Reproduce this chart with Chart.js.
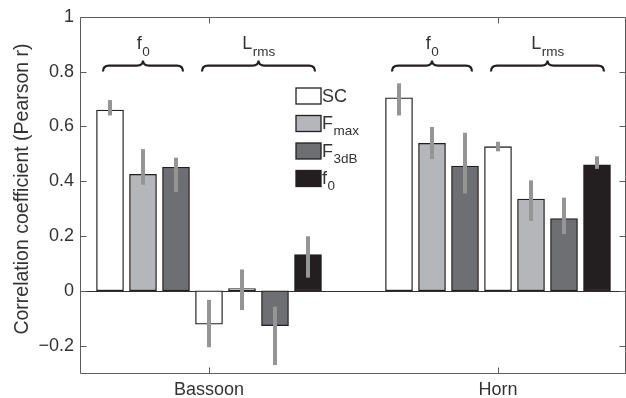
<!DOCTYPE html>
<html>
<head>
<meta charset="utf-8">
<script src="https://cdn.jsdelivr.net/npm/chart.js@4.4.0/dist/chart.umd.min.js"></script>
<style>
  body { margin: 0; background: #fff; }
  canvas { display: block; }
</style>
</head>
<body>
<canvas id="corrChart" width="626" height="398"></canvas>
<script>
var instruments = ['Bassoon', 'Horn'];
var features = ['SC', 'Fmax', 'F3dB', 'f0'];
var yTicks = [-0.2, 0, 0.2, 0.4, 0.6, 0.8, 1];

// Pearson r when predicting f0 (SC, Fmax, F3dB) and Lrms (SC, Fmax, F3dB, f0)
var bassoonF0 = [0.66, 0.425, 0.451];
var bassoonF0Lo = [0.64, 0.387, 0.361];
var bassoonF0Hi = [0.696, 0.517, 0.486];
var bassoonLrms = [-0.122, 0.008, -0.127, 0.132];
var bassoonLrmsLo = [-0.206, -0.07, -0.271, 0.048];
var bassoonLrmsHi = [-0.033, 0.078, -0.058, 0.199];
var hornF0 = [0.704, 0.538, 0.455];
var hornF0Lo = [0.64, 0.481, 0.355];
var hornF0Hi = [0.757, 0.598, 0.577];
var hornLrms = [0.526, 0.335, 0.264, 0.46];
var hornLrmsLo = [0.509, 0.255, 0.207, 0.445];
var hornLrmsHi = [0.544, 0.403, 0.34, 0.491];

var FONT = '"Liberation Sans", Arial, Helvetica, sans-serif';
var TEXT = '#333333';
var AXIS = '#5c5c5c';
var EDGE = '#231f20';
var fills = ['#ffffff', '#b5b6b9', '#6e6f72', '#231f20'];
var legendText = [['SC', ''], ['F', 'max'], ['F', '3dB'], ['f', '0']];

// seven bar slots per instrument, centred on the instrument tick
var SLOT = 33 / 289;

var groups = [
    { inst: 0, first: 0, name: ['f', '0'], v: bassoonF0, lo: bassoonF0Lo, hi: bassoonF0Hi },
    { inst: 0, first: 3, name: ['L', 'rms'], v: bassoonLrms, lo: bassoonLrmsLo, hi: bassoonLrmsHi },
    { inst: 1, first: 0, name: ['f', '0'], v: hornF0, lo: hornF0Lo, hi: hornF0Hi },
    { inst: 1, first: 3, name: ['L', 'rms'], v: hornLrms, lo: hornLrmsLo, hi: hornLrmsHi }
];

function slotX(inst, slot) {
    return inst + 1 + (slot - 3) * SLOT;
}

var datasets = features.map(function (f, j) {
    var pts = [];
    groups.forEach(function (g) {
        if (j < g.v.length) {
            pts.push({ x: slotX(g.inst, g.first + j), y: g.v[j], lo: g.lo[j], hi: g.hi[j] });
        }
    });
    return {
        label: f,
        data: pts,
        backgroundColor: fills[j],
        borderColor: EDGE,
        borderWidth: 1.3,
        borderSkipped: false,
        barThickness: 27,
        grouped: false
    };
});

function subText(ctx, x, y, main, sub, size, subSize, drop, align) {
    ctx.font = size + 'px ' + FONT;
    var w1 = ctx.measureText(main).width;
    ctx.font = subSize + 'px ' + FONT;
    var w2 = ctx.measureText(sub).width;
    var x0 = align === 'center' ? x - (w1 + w2) / 2 : x;
    ctx.textAlign = 'left';
    ctx.textBaseline = 'alphabetic';
    ctx.font = size + 'px ' + FONT;
    ctx.fillText(main, x0, y);
    ctx.font = subSize + 'px ' + FONT;
    ctx.fillText(sub, x0 + w1 + 0.5, y + drop);
}

function brace(ctx, x0, x1, yEnd) {
    var yMid = yEnd - 6, yTip = yEnd - 11, xc = (x0 + x1) / 2, r = 6;
    ctx.beginPath();
    ctx.moveTo(x0, yEnd);
    ctx.quadraticCurveTo(x0, yMid, x0 + r, yMid);
    ctx.lineTo(xc - r, yMid);
    ctx.quadraticCurveTo(xc, yMid, xc, yTip);
    ctx.quadraticCurveTo(xc, yMid, xc + r, yMid);
    ctx.lineTo(x1 - r, yMid);
    ctx.quadraticCurveTo(x1, yMid, x1, yEnd);
    ctx.stroke();
}

var decor = {
    id: 'decor',
    beforeDatasetsDraw: function (chart) {
        var ctx = chart.ctx, a = chart.chartArea, ys = chart.scales.y;
        var y0 = Math.round(ys.getPixelForValue(0)) + 0.5;
        ctx.save();
        ctx.strokeStyle = '#333';
        ctx.lineWidth = 1;
        ctx.beginPath();
        ctx.moveTo(a.left, y0);
        ctx.lineTo(a.right, y0);
        ctx.stroke();
        ctx.restore();
    },
    afterDatasetsDraw: function (chart) {
        var ctx = chart.ctx, a = chart.chartArea, xs = chart.scales.x, ys = chart.scales.y;
        ctx.save();

        // error bars
        ctx.strokeStyle = '#959595';
        ctx.lineWidth = 4;
        chart.data.datasets.forEach(function (ds, i) {
            var meta = chart.getDatasetMeta(i);
            meta.data.forEach(function (bar, k) {
                var p = ds.data[k];
                ctx.beginPath();
                ctx.moveTo(bar.x, ys.getPixelForValue(p.lo));
                ctx.lineTo(bar.x, ys.getPixelForValue(p.hi));
                ctx.stroke();
            });
        });

        // axes box and inward ticks
        ctx.strokeStyle = AXIS;
        ctx.lineWidth = 1;
        var L = Math.round(a.left) + 0.5, R = Math.round(a.right) - 0.5;
        var T = Math.round(a.top) + 0.5, B = Math.round(a.bottom) + 0.5;
        ctx.beginPath();
        ctx.moveTo(L, T); ctx.lineTo(R, T); ctx.lineTo(R, B); ctx.lineTo(L, B); ctx.closePath();
        yTicks.forEach(function (v) {
            var y = Math.round(ys.getPixelForValue(v)) + 0.5;
            ctx.moveTo(L, y); ctx.lineTo(L + 6, y);
            ctx.moveTo(R, y); ctx.lineTo(R - 6, y);
        });
        instruments.forEach(function (n, i) {
            var x = Math.round(xs.getPixelForValue(i + 1)) + 0.5;
            ctx.moveTo(x, T); ctx.lineTo(x, T + 6);
            ctx.moveTo(x, B); ctx.lineTo(x, B - 6);
        });
        ctx.stroke();

        // braces naming the predicted quantity
        ctx.strokeStyle = EDGE;
        ctx.lineWidth = 2.2;
        ctx.fillStyle = TEXT;
        var yEnd = ys.getPixelForValue(0.8);
        groups.forEach(function (g) {
            var xa = xs.getPixelForValue(slotX(g.inst, g.first)) - 7;
            var xb = xs.getPixelForValue(slotX(g.inst, g.first + g.v.length - 1)) + 7;
            brace(ctx, xa, xb, yEnd);
            subText(ctx, (xa + xb) / 2, yEnd - 23, g.name[0], g.name[1], 18, 13.5, 7.5, 'center');
        });

        // legend
        var lx = a.left + 216, ly = 88;
        features.forEach(function (f, j) {
            var by = ly + j * 27.5;
            ctx.fillStyle = fills[j];
            ctx.fillRect(lx, by, 25, 16);
            ctx.strokeStyle = EDGE;
            ctx.lineWidth = 1.3;
            ctx.strokeRect(lx, by, 25, 16);
            ctx.fillStyle = TEXT;
            subText(ctx, lx + 26, by + 13.5, legendText[j][0], legendText[j][1], 18, 13.5, 6, 'left');
        });

        // y axis title
        ctx.translate(23, 189);
        ctx.rotate(-Math.PI / 2);
        ctx.font = '19.5px ' + FONT;
        ctx.textAlign = 'center';
        ctx.textBaseline = 'middle';
        ctx.fillStyle = TEXT;
        ctx.fillText('Correlation coefficient (Pearson r)', 0, 0);
        ctx.restore();
    }
};

new Chart(document.getElementById('corrChart'), {
    type: 'bar',
    data: { datasets: datasets },
    options: {
        responsive: false,
        animation: false,
        layout: { padding: { top: 14, right: 0, left: 0, bottom: 0 } },
        plugins: { legend: { display: false }, tooltip: { enabled: false } },
        scales: {
            x: {
                type: 'linear',
                offset: false,
                min: 1 - 129 / 289,
                max: 2 + 128 / 289,
                grid: { display: false, drawTicks: false },
                border: { display: false },
                afterBuildTicks: function (scale) {
                    scale.ticks = instruments.map(function (n, i) { return { value: i + 1 }; });
                },
                afterFit: function (scale) { scale.height = 25; },
                ticks: {
                    padding: 6,
                    color: TEXT,
                    font: { family: FONT, size: 18 },
                    maxRotation: 0,
                    callback: function (v) { return instruments[v - 1]; }
                }
            },
            y: {
                min: -0.3,
                max: 1,
                grid: { display: false, drawTicks: false },
                border: { display: false },
                afterBuildTicks: function (scale) {
                    scale.ticks = yTicks.map(function (v) { return { value: v }; });
                },
                afterFit: function (scale) { scale.width = 80; },
                ticks: {
                    padding: 6,
                    color: TEXT,
                    font: { family: FONT, size: 18 },
                    callback: function (v) {
                        return v < 0 ? '\u2212' + Math.abs(v) : String(v);
                    }
                }
            }
        }
    },
    plugins: [decor]
});
</script>
</body>
</html>
